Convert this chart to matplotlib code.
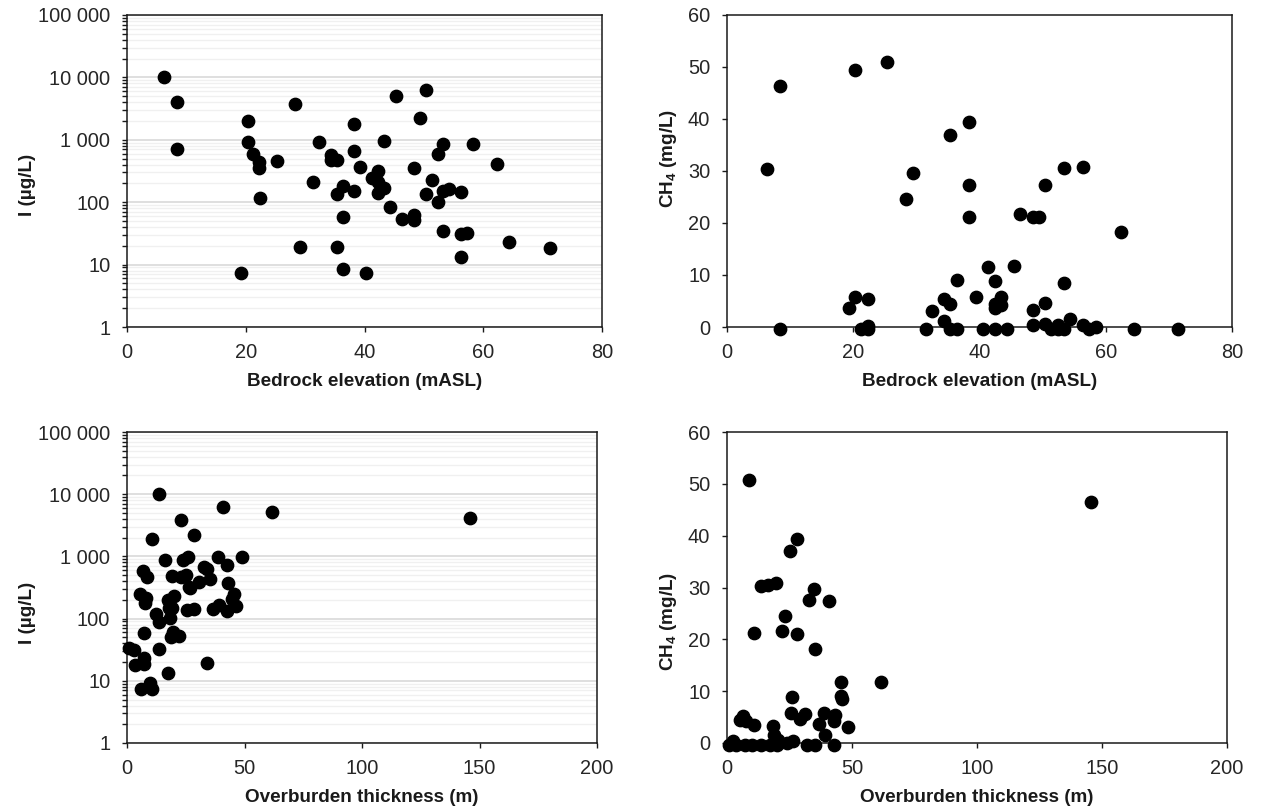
import matplotlib
matplotlib.use("Agg")
import matplotlib.pyplot as plt
import numpy as np
from matplotlib.ticker import FuncFormatter, LogLocator, NullFormatter, MultipleLocator

plt.rcParams["font.family"] = ["Liberation Sans", "DejaVu Sans"]
plt.rcParams["mathtext.fontset"] = "custom"
plt.rcParams["mathtext.rm"] = "Liberation Sans"
plt.rcParams["mathtext.bf"] = "Liberation Sans:bold"

# bedrock elevation (mASL) vs iodine (ug/L)
bedrock_i = [6.3, 8.4, 8.4, 20.3, 20.3, 21.3, 22.3, 22.3, 22.4, 25.3, 28.3, 29.2, 19.2,
             31.3, 32.3, 34.3, 34.4, 35.4, 35.3, 36.3, 36.3, 35.3, 36.3, 38.3, 38.3, 38.3,
             39.3, 40.3, 42.3, 41.3, 42.3, 42.3, 43.3, 43.3, 44.3, 45.3, 46.3, 48.3, 48.3,
             48.3, 49.3, 50.3, 50.3, 51.3, 52.3, 52.3, 53.3, 53.3, 53.3, 54.3, 56.3, 56.3,
             57.3, 56.3, 58.3, 62.3, 64.3, 71.3]
iodine_b = [10000, 4050, 710, 2000, 930, 590, 440, 350, 117, 450, 3800, 19.5, 7.4,
            212, 930, 570, 475, 470, 134, 183, 57, 19.5, 8.6, 1800, 660, 153,
            370, 7.4, 320, 240, 214, 138, 166, 960, 85, 5100, 54, 62, 51,
            355, 2200, 6200, 135, 225, 600, 100, 850, 153, 35, 162, 144, 31,
            32, 13.4, 850, 405, 23, 18.3]

# bedrock elevation (mASL) vs CH4 (mg/L)
bedrock_c = [8.4, 6.4, 8.4, 20.3, 25.3, 19.3, 20.3, 22.4, 21.3, 22.4, 22.4, 28.3, 29.4,
             31.5, 32.4, 34.4, 34.4, 35.4, 35.4, 35.4, 36.5, 36.4, 38.4, 38.4, 38.4, 39.4,
             40.5, 41.4, 42.4, 42.4, 42.4, 43.4, 43.4, 42.4, 44.4, 45.4, 46.4, 48.4, 49.5,
             48.4, 48.4, 50.4, 50.4, 50.4, 51.3, 52.4, 52.4, 53.4, 53.4, 53.4, 54.4, 56.4,
             56.4, 57.4, 58.5, 62.4, 64.4, 71.4]
ch4_b = [-0.4, 30.4, 46.3, 49.5, 50.9, 3.65, 5.8, 5.4, -0.4, 0.1, -0.4, 24.6, 29.7,
         -0.4, 3.1, 5.3, 1.1, 4.5, 36.9, -0.4, -0.4, 9.0, 39.4, 27.4, 21.1, 5.7,
         -0.4, 11.6, 8.8, 4.5, 3.65, 5.8, 4.2, -0.4, -0.4, 11.8, 21.8, 21.1, 21.1,
         3.3, 0.3, 27.4, 4.6, 0.5, -0.4, 0.3, -0.4, 30.5, 8.5, -0.4, 1.5, 30.7,
         0.3, -0.4, 0.0, 18.2, -0.4, -0.4]

# overburden thickness (m) vs iodine (ug/L)
overburden_i = [13.6, 40.9, 61.8, 145.9, 22.9, 28.3, 10.5, 16.2, 23.9, 25.9, 38.9, 48.9,
                42.6, 6.8, 8.5, 19.2, 22.9, 25.3, 32.7, 34.1, 35.2, 30.7, 26.3, 43.0,
                5.4, 8.0, 7.5, 17.5, 20.0, 19.2, 25.7, 28.6, 36.6, 39.1, 42.6, 45.5,
                46.3, 12.2, 13.5, 18.5, 7.1, 18.9, 19.6, 22.2, 0.85, 2.8, 13.5, 3.3,
                7.1, 7.1, 34.2, 17.5, 9.9, 6.1, 10.8, 44.6, 27.0, 18.0]
iodine_o = [10000, 6300, 5200, 4080, 3830, 2200, 1870, 862, 862, 975, 975, 975,
            727, 582, 472, 490, 472, 508, 683, 627, 428, 393, 326, 369,
            252, 217, 176, 200, 234, 146, 138, 143, 141, 166, 133, 249,
            162, 119, 87, 101, 58, 51, 60, 53, 34, 31, 33, 18,
            23, 18.7, 19.2, 13.3, 9.2, 7.3, 7.3, 210, 310, 150]

# overburden thickness (m) vs CH4 (mg/L)
overburden_c = [8.7, 145.5, 27.8, 25.1, 13.75, 16.4, 19.5, 34.7, 32.8, 40.6, 23.1, 10.7,
                22.0, 28.0, 35.1, 45.4, 61.7, 25.8, 45.4, 46.1, 6.4, 5.1, 7.5, 10.8,
                25.4, 29.1, 31.1, 38.9, 43.1, 42.9, 36.6, 48.5, 18.2, 18.7, 39.1, 2.4,
                0.8, 3.7, 7.1, 10.1, 13.4, 17.1, 20.0, 23.8, 26.2, 32.0, 35.1, 42.9, 20.4]
ch4_o = [50.8, 46.5, 39.3, 37.1, 30.3, 30.5, 30.8, 29.7, 27.5, 27.3, 24.5, 21.3,
         21.7, 21.05, 18.2, 11.7, 11.7, 8.8, 9.1, 8.5, 5.3, 4.5, 4.2, 3.5,
         5.8, 4.6, 5.65, 5.8, 5.45, 4.2, 3.7, 3.1, 3.3, 1.6, 1.6, 0.3,
         -0.4, -0.4, -0.4, -0.4, -0.4, -0.4, -0.4, 0.0, 0.3, -0.4, -0.4, -0.4, 0.6]

DARK = "#1a1a1a"
W, H = 1269, 809


def px_axes(fig, left, top, right, bottom):
    return fig.add_axes([left / W, (H - bottom) / H, (right - left) / W, (bottom - top) / H])


def style(ax):
    for s in ax.spines.values():
        s.set_color(DARK)
        s.set_linewidth(1.1)
    ax.tick_params(which="both", direction="out", length=3.6, width=1, color=DARK,
                   labelsize=14.4, labelcolor="#262626")
    ax.tick_params(axis="x", pad=8)
    ax.tick_params(axis="y", pad=8.4)


def thousands(v, pos):
    return f"{int(round(v)):,}".replace(",", " ")


def iodine_panel(ax, x, y, xmax, xstep, xlabel, label_xy):
    ax.plot(x, y, "o", color="black", markersize=8.9, clip_on=False, zorder=3)
    ax.set_yscale("log")
    ax.set_ylim(1, 100000)
    ax.set_xlim(0, xmax)
    ax.xaxis.set_major_locator(MultipleLocator(xstep))
    ax.yaxis.set_major_locator(LogLocator(base=10, numticks=10))
    ax.yaxis.set_minor_locator(LogLocator(base=10, subs=np.arange(2, 10), numticks=20))
    ax.yaxis.set_major_formatter(FuncFormatter(thousands))
    ax.yaxis.set_minor_formatter(NullFormatter())
    ax.grid(axis="y", which="major", color="#d9d9d9", lw=1.2)
    ax.grid(axis="y", which="minor", color="#f0f0f0", lw=1.0)
    ax.set_axisbelow(True)
    style(ax)
    ax.set_ylabel("I (µg/L)", fontsize=13.6, fontweight="bold", color=DARK)
    ax.yaxis.set_label_coords(*label_xy)
    ax.set_xlabel(xlabel, fontsize=13.6, fontweight="bold", color=DARK, labelpad=8)


def ch4_panel(ax, x, y, xmax, xstep, xlabel, label_xy):
    ax.plot(x, y, "o", color="black", markersize=8.9, clip_on=False, zorder=3)
    ax.set_ylim(0, 60)
    ax.set_xlim(0, xmax)
    ax.xaxis.set_major_locator(MultipleLocator(xstep))
    ax.yaxis.set_major_locator(MultipleLocator(10))
    style(ax)
    ax.set_ylabel(r"CH$_\mathbf{4}$ (mg/L)", fontsize=13.6, fontweight="bold", color=DARK)
    ax.yaxis.set_label_coords(*label_xy)
    ax.set_xlabel(xlabel, fontsize=13.6, fontweight="bold", color=DARK, labelpad=8)


fig = plt.figure(figsize=(W / 100, H / 100), dpi=100)

ax1 = px_axes(fig, 127, 15, 602, 327)
ax2 = px_axes(fig, 727, 15, 1232, 327)
ax3 = px_axes(fig, 127, 432, 597, 743)
ax4 = px_axes(fig, 727, 432, 1227, 743)

iodine_panel(ax1, bedrock_i, iodine_b, 80, 20, "Bedrock elevation (mASL)", (-0.192, 0.455))
ch4_panel(ax2, bedrock_c, ch4_b, 80, 20, "Bedrock elevation (mASL)", (-0.095, 0.54))
iodine_panel(ax3, overburden_i, iodine_o, 200, 50, "Overburden thickness (m)", (-0.194, 0.42))
ch4_panel(ax4, overburden_c, ch4_o, 200, 50, "Overburden thickness (m)", (-0.096, 0.39))

fig.savefig("out.png", dpi=100)
